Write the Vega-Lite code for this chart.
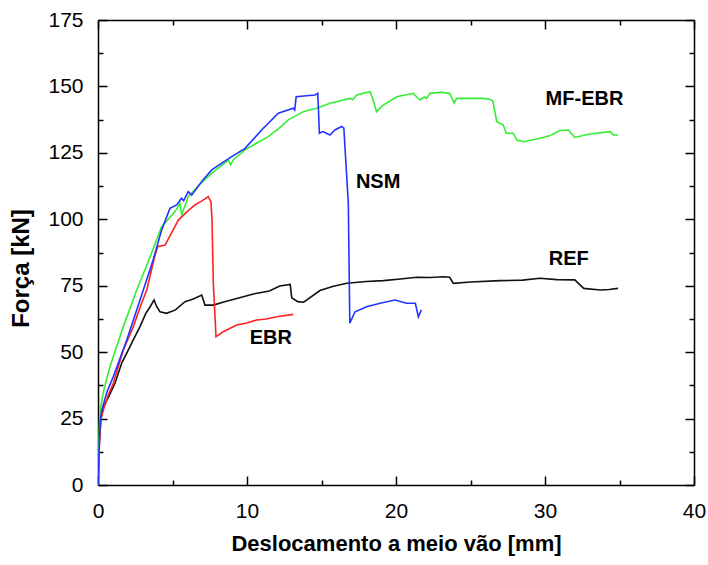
{
  "$schema": "https://vega.github.io/schema/vega-lite/v6.json",
  "autosize": {"type": "none"},
  "padding": {"left": 98, "top": 20, "right": 14, "bottom": 80},
  "width": 596,
  "height": 465,
  "background": "white",
  "config": {"view": {"stroke": null}},
  "datasets": {
    "curves": [
      {"s": "REF", "x": 0, "y": 0}, {"s": "REF", "x": 0.1, "y": 18}, {"s": "REF", "x": 0.2, "y": 25}, {"s": "REF", "x": 0.36, "y": 29.5}, {"s": "REF", "x": 0.7, "y": 33}, {"s": "REF", "x": 1.14, "y": 38.3}, {"s": "REF", "x": 1.6, "y": 46}, {"s": "REF", "x": 2.03, "y": 50.8}, {"s": "REF", "x": 2.4, "y": 55}, {"s": "REF", "x": 2.82, "y": 59.6}, {"s": "REF", "x": 3.2, "y": 64.5}, {"s": "REF", "x": 3.5, "y": 67.1}, {"s": "REF", "x": 3.76, "y": 69.6}, {"s": "REF", "x": 3.95, "y": 67}, {"s": "REF", "x": 4.16, "y": 65.2}, {"s": "REF", "x": 4.6, "y": 64.6}, {"s": "REF", "x": 5.2, "y": 65.9}, {"s": "REF", "x": 5.84, "y": 69}, {"s": "REF", "x": 6.4, "y": 70}, {"s": "REF", "x": 6.96, "y": 71.5}, {"s": "REF", "x": 7.18, "y": 67.7}, {"s": "REF", "x": 7.74, "y": 67.7}, {"s": "REF", "x": 8.5, "y": 69}, {"s": "REF", "x": 9.5, "y": 70.5}, {"s": "REF", "x": 10.5, "y": 72}, {"s": "REF", "x": 11.5, "y": 73}, {"s": "REF", "x": 12.2, "y": 74.9}, {"s": "REF", "x": 12.9, "y": 75.5}, {"s": "REF", "x": 13.0, "y": 70.5}, {"s": "REF", "x": 13.4, "y": 69}, {"s": "REF", "x": 13.8, "y": 68.8}, {"s": "REF", "x": 14.9, "y": 73.2}, {"s": "REF", "x": 15.8, "y": 74.8}, {"s": "REF", "x": 16.7, "y": 75.9}, {"s": "REF", "x": 18, "y": 76.6}, {"s": "REF", "x": 19.15, "y": 76.9}, {"s": "REF", "x": 20.3, "y": 77.5}, {"s": "REF", "x": 21.4, "y": 78.2}, {"s": "REF", "x": 22.3, "y": 78.1}, {"s": "REF", "x": 23.2, "y": 78.4}, {"s": "REF", "x": 23.6, "y": 78.2}, {"s": "REF", "x": 23.85, "y": 75.9}, {"s": "REF", "x": 25, "y": 76.4}, {"s": "REF", "x": 27, "y": 76.9}, {"s": "REF", "x": 28.5, "y": 77.1}, {"s": "REF", "x": 29.66, "y": 77.8}, {"s": "REF", "x": 30.8, "y": 77.3}, {"s": "REF", "x": 32.0, "y": 77.2}, {"s": "REF", "x": 32.6, "y": 74}, {"s": "REF", "x": 33.7, "y": 73.4}, {"s": "REF", "x": 34.3, "y": 73.6}, {"s": "REF", "x": 34.9, "y": 74},
      {"s": "EBR", "x": 0, "y": 0}, {"s": "EBR", "x": 0.1, "y": 16}, {"s": "EBR", "x": 0.2, "y": 25}, {"s": "EBR", "x": 0.36, "y": 28.2}, {"s": "EBR", "x": 0.7, "y": 34}, {"s": "EBR", "x": 1.03, "y": 38.3}, {"s": "EBR", "x": 1.7, "y": 50.8}, {"s": "EBR", "x": 2.37, "y": 59.6}, {"s": "EBR", "x": 2.9, "y": 68}, {"s": "EBR", "x": 3.27, "y": 73.4}, {"s": "EBR", "x": 3.8, "y": 85.9}, {"s": "EBR", "x": 4.0, "y": 89.7}, {"s": "EBR", "x": 4.5, "y": 90.3}, {"s": "EBR", "x": 5.0, "y": 95.5}, {"s": "EBR", "x": 5.39, "y": 99.7}, {"s": "EBR", "x": 6.0, "y": 103}, {"s": "EBR", "x": 6.5, "y": 105.4}, {"s": "EBR", "x": 7.0, "y": 107}, {"s": "EBR", "x": 7.4, "y": 108.5}, {"s": "EBR", "x": 7.58, "y": 106.6}, {"s": "EBR", "x": 7.65, "y": 100}, {"s": "EBR", "x": 7.74, "y": 75.9}, {"s": "EBR", "x": 7.92, "y": 55.8}, {"s": "EBR", "x": 8.41, "y": 57.7}, {"s": "EBR", "x": 9.3, "y": 60.2}, {"s": "EBR", "x": 10.0, "y": 61}, {"s": "EBR", "x": 10.65, "y": 62.1}, {"s": "EBR", "x": 11.3, "y": 62.5}, {"s": "EBR", "x": 12.0, "y": 63.3}, {"s": "EBR", "x": 13.1, "y": 64.2},
      {"s": "MF-EBR", "x": 0, "y": 0}, {"s": "MF-EBR", "x": 0.05, "y": 14}, {"s": "MF-EBR", "x": 0.13, "y": 28}, {"s": "MF-EBR", "x": 0.4, "y": 36}, {"s": "MF-EBR", "x": 0.8, "y": 44.5}, {"s": "MF-EBR", "x": 1.7, "y": 59.6}, {"s": "MF-EBR", "x": 2.6, "y": 73.4}, {"s": "MF-EBR", "x": 3.5, "y": 85.9}, {"s": "MF-EBR", "x": 4.27, "y": 97.2}, {"s": "MF-EBR", "x": 5.17, "y": 102.9}, {"s": "MF-EBR", "x": 5.5, "y": 106}, {"s": "MF-EBR", "x": 5.62, "y": 101.5}, {"s": "MF-EBR", "x": 5.7, "y": 103}, {"s": "MF-EBR", "x": 6.06, "y": 108.5}, {"s": "MF-EBR", "x": 6.8, "y": 113}, {"s": "MF-EBR", "x": 7.63, "y": 117.3}, {"s": "MF-EBR", "x": 8.75, "y": 122.3}, {"s": "MF-EBR", "x": 8.9, "y": 120.5}, {"s": "MF-EBR", "x": 9.1, "y": 122.5}, {"s": "MF-EBR", "x": 9.87, "y": 126.1}, {"s": "MF-EBR", "x": 10.6, "y": 128.5}, {"s": "MF-EBR", "x": 11.43, "y": 131.1}, {"s": "MF-EBR", "x": 12.1, "y": 134}, {"s": "MF-EBR", "x": 12.77, "y": 137.4}, {"s": "MF-EBR", "x": 13.3, "y": 139}, {"s": "MF-EBR", "x": 13.78, "y": 140.5}, {"s": "MF-EBR", "x": 14.2, "y": 141.1}, {"s": "MF-EBR", "x": 14.68, "y": 141.8}, {"s": "MF-EBR", "x": 15.57, "y": 143.7}, {"s": "MF-EBR", "x": 16.2, "y": 144.5}, {"s": "MF-EBR", "x": 16.9, "y": 145.5}, {"s": "MF-EBR", "x": 17.1, "y": 145}, {"s": "MF-EBR", "x": 17.36, "y": 146.8}, {"s": "MF-EBR", "x": 18.25, "y": 148}, {"s": "MF-EBR", "x": 18.4, "y": 146}, {"s": "MF-EBR", "x": 18.7, "y": 140.5}, {"s": "MF-EBR", "x": 19.15, "y": 143}, {"s": "MF-EBR", "x": 20.05, "y": 146.1}, {"s": "MF-EBR", "x": 20.6, "y": 146.8}, {"s": "MF-EBR", "x": 21.16, "y": 147.4}, {"s": "MF-EBR", "x": 21.4, "y": 146}, {"s": "MF-EBR", "x": 21.6, "y": 144.9}, {"s": "MF-EBR", "x": 21.9, "y": 146}, {"s": "MF-EBR", "x": 22.05, "y": 145.5}, {"s": "MF-EBR", "x": 22.28, "y": 147.4}, {"s": "MF-EBR", "x": 23.0, "y": 147.8}, {"s": "MF-EBR", "x": 23.6, "y": 147.4}, {"s": "MF-EBR", "x": 23.8, "y": 145}, {"s": "MF-EBR", "x": 23.9, "y": 143.7}, {"s": "MF-EBR", "x": 24.07, "y": 145.5}, {"s": "MF-EBR", "x": 25, "y": 145.5}, {"s": "MF-EBR", "x": 25.8, "y": 145.5}, {"s": "MF-EBR", "x": 26.3, "y": 145.2}, {"s": "MF-EBR", "x": 26.5, "y": 144.5}, {"s": "MF-EBR", "x": 26.76, "y": 136.7}, {"s": "MF-EBR", "x": 27.2, "y": 135.5}, {"s": "MF-EBR", "x": 27.4, "y": 132.4}, {"s": "MF-EBR", "x": 27.87, "y": 132.4}, {"s": "MF-EBR", "x": 28.1, "y": 129.8}, {"s": "MF-EBR", "x": 28.56, "y": 129.2}, {"s": "MF-EBR", "x": 29.66, "y": 130.5}, {"s": "MF-EBR", "x": 30.3, "y": 131.4}, {"s": "MF-EBR", "x": 31.0, "y": 133.4}, {"s": "MF-EBR", "x": 31.57, "y": 133.6}, {"s": "MF-EBR", "x": 32.0, "y": 130.8}, {"s": "MF-EBR", "x": 33.0, "y": 132.1}, {"s": "MF-EBR", "x": 34.36, "y": 133}, {"s": "MF-EBR", "x": 34.6, "y": 131.7}, {"s": "MF-EBR", "x": 34.9, "y": 131.7},
      {"s": "NSM", "x": 0, "y": 0}, {"s": "NSM", "x": 0.08, "y": 15}, {"s": "NSM", "x": 0.15, "y": 24}, {"s": "NSM", "x": 0.25, "y": 28.2}, {"s": "NSM", "x": 0.6, "y": 35}, {"s": "NSM", "x": 1.03, "y": 40.8}, {"s": "NSM", "x": 1.93, "y": 54.6}, {"s": "NSM", "x": 2.82, "y": 69.6}, {"s": "NSM", "x": 3.7, "y": 84.7}, {"s": "NSM", "x": 4.27, "y": 96}, {"s": "NSM", "x": 4.83, "y": 104.1}, {"s": "NSM", "x": 5.28, "y": 105.4}, {"s": "NSM", "x": 5.6, "y": 107.9}, {"s": "NSM", "x": 5.75, "y": 107}, {"s": "NSM", "x": 6.06, "y": 110.4}, {"s": "NSM", "x": 6.29, "y": 109.1}, {"s": "NSM", "x": 7.0, "y": 114.5}, {"s": "NSM", "x": 7.63, "y": 118.6}, {"s": "NSM", "x": 8.97, "y": 123.6}, {"s": "NSM", "x": 9.87, "y": 126.7}, {"s": "NSM", "x": 10.98, "y": 133.6}, {"s": "NSM", "x": 12.1, "y": 139.9}, {"s": "NSM", "x": 13.1, "y": 141.8}, {"s": "NSM", "x": 13.2, "y": 141.1}, {"s": "NSM", "x": 13.3, "y": 146.1}, {"s": "NSM", "x": 14.0, "y": 146.5}, {"s": "NSM", "x": 14.56, "y": 146.8}, {"s": "NSM", "x": 14.75, "y": 147.4}, {"s": "NSM", "x": 14.86, "y": 132.4}, {"s": "NSM", "x": 15.1, "y": 133}, {"s": "NSM", "x": 15.57, "y": 131.7}, {"s": "NSM", "x": 15.9, "y": 133.6}, {"s": "NSM", "x": 16.35, "y": 134.9}, {"s": "NSM", "x": 16.5, "y": 134.3}, {"s": "NSM", "x": 16.65, "y": 120}, {"s": "NSM", "x": 16.8, "y": 106}, {"s": "NSM", "x": 16.9, "y": 60.9}, {"s": "NSM", "x": 17.25, "y": 65.2}, {"s": "NSM", "x": 18.03, "y": 67.1}, {"s": "NSM", "x": 18.93, "y": 68.4}, {"s": "NSM", "x": 19.93, "y": 69.6}, {"s": "NSM", "x": 20.7, "y": 68.4}, {"s": "NSM", "x": 21.3, "y": 68.4}, {"s": "NSM", "x": 21.5, "y": 63.3}, {"s": "NSM", "x": 21.7, "y": 65.9}
    ],
    "labels": [
      {"label": "MF-EBR", "x": 32.65, "y": 145.3},
      {"label": "NSM", "x": 18.8, "y": 113.9},
      {"label": "REF", "x": 31.6, "y": 85},
      {"label": "EBR", "x": 11.6, "y": 55.5}
    ]
  },
  "resolve": {"axis": {"x": "independent", "y": "independent"}},
  "layer": [
    {
      "data": {"name": "curves"},
      "mark": {"type": "line", "strokeWidth": 1.6, "clip": true},
      "encoding": {
        "x": {
          "field": "x", "type": "quantitative",
          "scale": {"domain": [0, 40], "nice": false, "zero": false},
          "axis": {
            "orient": "bottom",
            "values": [0, 5, 10, 15, 20, 25, 30, 35, 40],
            "labelExpr": "datum.value % 10 === 0 ? datum.label : ''",
            "labelFlush": false,
            "tickSize": {"condition": {"test": "datum.value % 10 !== 0", "value": -5}, "value": -9},
            "grid": false,
            "domainColor": "black", "domainWidth": 1.5,
            "tickColor": "black", "tickWidth": 1.5,
            "labelFont": "Liberation Sans", "labelFontSize": 21, "labelColor": "black", "labelPadding": 24,
            "title": "Deslocamento a meio vão [mm]",
            "titleFont": "Liberation Sans", "titleFontSize": 22, "titleFontWeight": "bold", "titleColor": "black", "titlePadding": 12
          }
        },
        "y": {
          "field": "y", "type": "quantitative",
          "scale": {"domain": [0, 175], "nice": false, "zero": false},
          "axis": {
            "orient": "left",
            "values": [0, 12.5, 25, 37.5, 50, 62.5, 75, 87.5, 100, 112.5, 125, 137.5, 150, 162.5, 175],
            "labelExpr": "datum.value % 25 === 0 ? datum.label : ''",
            "labelFlush": false,
            "tickSize": {"condition": {"test": "datum.value % 25 !== 0", "value": -5}, "value": -9},
            "grid": false,
            "domainColor": "black", "domainWidth": 1.5,
            "tickColor": "black", "tickWidth": 1.5,
            "labelFont": "Liberation Sans", "labelFontSize": 21, "labelColor": "black", "labelPadding": 24,
            "title": "Força [kN]",
            "titleFont": "Liberation Sans", "titleFontSize": 24, "titleFontWeight": "bold", "titleColor": "black", "titlePadding": 14, "titleY": 248
          }
        },
        "color": {
          "field": "s", "type": "nominal",
          "scale": {"domain": ["REF", "EBR", "MF-EBR", "NSM"], "range": ["#111111", "#ff2222", "#33ee33", "#2233ff"]},
          "legend": null
        }
      }
    },
    {
      "data": {"name": "labels"},
      "mark": {"type": "text", "font": "Liberation Sans", "fontSize": 20, "fontWeight": "bold", "color": "black", "align": "center", "baseline": "middle"},
      "encoding": {
        "x": {
          "field": "x", "type": "quantitative",
          "scale": {"domain": [0, 40], "nice": false, "zero": false},
          "axis": {
            "orient": "top",
            "values": [0, 5, 10, 15, 20, 25, 30, 35, 40],
            "labels": false,
            "tickSize": {"condition": {"test": "datum.value % 10 !== 0", "value": -5}, "value": -9},
            "grid": false,
            "domainColor": "black", "domainWidth": 1.5,
            "tickColor": "black", "tickWidth": 1.5,
            "title": null
          }
        },
        "y": {
          "field": "y", "type": "quantitative",
          "scale": {"domain": [0, 175], "nice": false, "zero": false},
          "axis": {
            "orient": "right",
            "values": [0, 12.5, 25, 37.5, 50, 62.5, 75, 87.5, 100, 112.5, 125, 137.5, 150, 162.5, 175],
            "labels": false,
            "tickSize": {"condition": {"test": "datum.value % 25 !== 0", "value": -5}, "value": -9},
            "grid": false,
            "domainColor": "black", "domainWidth": 1.5,
            "tickColor": "black", "tickWidth": 1.5,
            "title": null
          }
        },
        "text": {"field": "label", "type": "nominal"}
      }
    }
  ]
}
